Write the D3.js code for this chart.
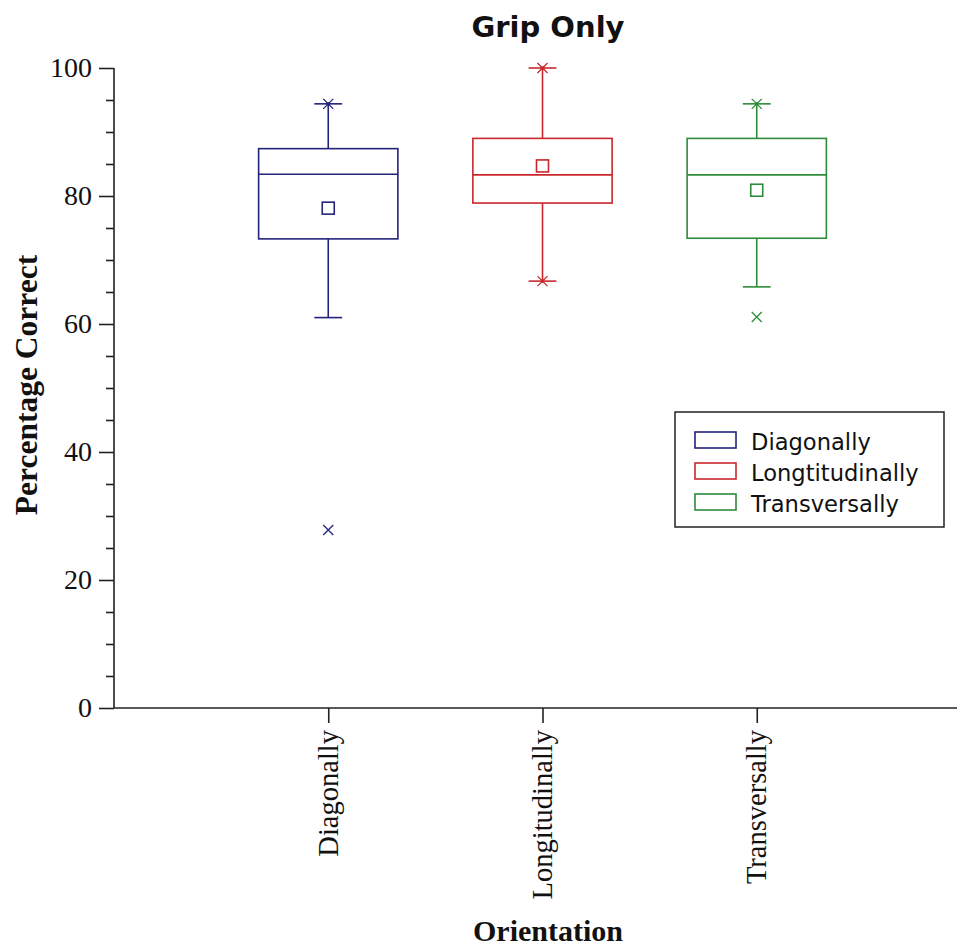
<!DOCTYPE html>
<html><head><meta charset="utf-8">
<script src="https://cdn.jsdelivr.net/npm/d3@7"></script>
<style>html,body{margin:0;padding:0;background:#fff;}svg{display:block;}</style>
</head><body>
<svg id="chart" width="957" height="948"></svg>
<script>
const categories = ["Diagonally", "Longtitudinally", "Transversally"];
const tickLabels = ["Diagonally", "Longitudinally", "Transversally"];
const colors = ["#23237a", "#c8282d", "#2e8b3a"];
const whiskerLow  = [61.0, 66.7, 65.8];
const q1          = [73.3, 78.9, 73.4];
const median      = [83.4, 83.3, 83.3];
const q3          = [87.4, 89.0, 89.0];
const whiskerHigh = [94.4, 100.0, 94.4];
const means       = [78.1, 84.7, 80.9];
const outliers    = [[27.8], [], [61.1]];
const starPoints  = [[94.4], [100.0, 66.7], [94.4]];
const yTicks = [0, 20, 40, 60, 80, 100];
const yMinorTicks = [5,10,15,25,30,35,45,50,55,65,70,75,85,90,95];

const svg = d3.select("#chart");
const W = 957, H = 948;
const x = d3.scaleLinear().domain([0, 4]).range([114, 971]);
const y = d3.scaleLinear().domain([0, 100]).range([708, 68]);
const unit = x(1) - x(0);
const boxW = 0.65 * unit, capW = 0.13 * unit;
const serif = "'Liberation Serif','Times New Roman',serif";
const sans = "'DejaVu Sans',Verdana,sans-serif";
const axisColor = "#222";

// Y axis
const yAxis = d3.axisLeft(y).tickValues(yTicks).tickSize(15).tickPadding(7).tickFormat(d3.format("d"));
const gy = svg.append("g").attr("transform", `translate(${x(0)},0)`).call(yAxis);
gy.select(".domain").attr("stroke", axisColor).attr("stroke-width", 1.6).attr("d", `M0,${y(100)}V${y(0)}`);
gy.selectAll(".tick line").attr("stroke", axisColor).attr("stroke-width", 1.6);
gy.selectAll(".tick text").attr("font-family", serif).attr("font-size", 28).attr("fill", "#111");
const gym = svg.append("g").attr("transform", `translate(${x(0)},0)`)
  .call(d3.axisLeft(y).tickValues(yMinorTicks).tickSize(8).tickFormat(""));
gym.select(".domain").remove();
gym.selectAll(".tick line").attr("stroke", axisColor).attr("stroke-width", 1.6);

// X axis
const xAxis = d3.axisBottom(x).tickValues([1, 2, 3]).tickSize(15).tickFormat((d, i) => tickLabels[i]);
const gx = svg.append("g").attr("transform", `translate(0,${y(0)})`).call(xAxis);
gx.select(".domain").attr("stroke", axisColor).attr("stroke-width", 1.6).attr("d", `M${x(0)},0H${W}`);
gx.selectAll(".tick line").attr("stroke", axisColor).attr("stroke-width", 1.6);
gx.selectAll(".tick text")
  .attr("font-family", serif).attr("font-size", 28.5).attr("fill", "#111")
  .attr("text-anchor", "end")
  .attr("transform", "rotate(-90)")
  .attr("x", -22).attr("y", 0).attr("dy", "0.32em");

// Boxes
categories.forEach((c, i) => {
  const g = svg.append("g").attr("stroke", colors[i]).attr("fill", "none").attr("stroke-width", 1.6);
  const cx = x(i + 1);
  g.append("line").attr("x1", cx).attr("x2", cx).attr("y1", y(q3[i])).attr("y2", y(whiskerHigh[i]));
  g.append("line").attr("x1", cx).attr("x2", cx).attr("y1", y(q1[i])).attr("y2", y(whiskerLow[i]));
  g.append("line").attr("x1", cx - capW/2).attr("x2", cx + capW/2).attr("y1", y(whiskerHigh[i])).attr("y2", y(whiskerHigh[i]));
  g.append("line").attr("x1", cx - capW/2).attr("x2", cx + capW/2).attr("y1", y(whiskerLow[i])).attr("y2", y(whiskerLow[i]));
  g.append("rect").attr("x", cx - boxW/2).attr("width", boxW)
    .attr("y", y(q3[i])).attr("height", y(q1[i]) - y(q3[i]));
  g.append("line").attr("x1", cx - boxW/2).attr("x2", cx + boxW/2).attr("y1", y(median[i])).attr("y2", y(median[i]));
  g.append("rect").attr("x", cx - 6).attr("y", y(means[i]) - 6).attr("width", 12).attr("height", 12);
  outliers[i].forEach(v => {
    const yy = y(v), s = 5;
    g.append("path").attr("stroke-width", 1.3).attr("d", `M${cx-s},${yy-s}L${cx+s},${yy+s}M${cx-s},${yy+s}L${cx+s},${yy-s}`);
  });
  starPoints[i].forEach(v => {
    const yy = y(v), s = 5;
    g.append("path").attr("stroke-width", 1.3).attr("d", `M${cx-s},${yy-s}L${cx+s},${yy+s}M${cx-s},${yy+s}L${cx+s},${yy-s}`);
    g.append("circle").attr("cx", cx).attr("cy", yy).attr("r", 1.8).attr("fill", colors[i]).attr("stroke", "none");
  });
});

// Title and axis titles
svg.append("text").attr("x", 548).attr("y", 37).attr("text-anchor", "middle")
  .attr("font-family", sans).attr("font-weight", "bold").attr("font-size", 29).attr("fill", "#111").text("Grip Only");
svg.append("text").attr("transform", "translate(37,385) rotate(-90)").attr("text-anchor", "middle")
  .attr("font-family", serif).attr("font-weight", "bold").attr("font-size", 31.5).attr("fill", "#111").text("Percentage Correct");
svg.append("text").attr("x", 548).attr("y", 941).attr("text-anchor", "middle")
  .attr("font-family", serif).attr("font-weight", "bold").attr("font-size", 30).attr("fill", "#111").text("Orientation");

// Legend
const lg = svg.append("g");
lg.append("rect").attr("x", 675).attr("y", 412).attr("width", 269).attr("height", 115)
  .attr("fill", "#fff").attr("stroke", "#222").attr("stroke-width", 1.5);
categories.forEach((c, i) => {
  const cy = 440 + i * 31;
  lg.append("rect").attr("x", 695).attr("y", cy - 8).attr("width", 41).attr("height", 16)
    .attr("fill", "none").attr("stroke", colors[i]).attr("stroke-width", 1.6);
  lg.append("text").attr("x", 751).attr("y", cy + 10).attr("font-family", sans).attr("font-size", 22.6)
    .attr("fill", "#111").text(c);
});
</script>
</body></html>
